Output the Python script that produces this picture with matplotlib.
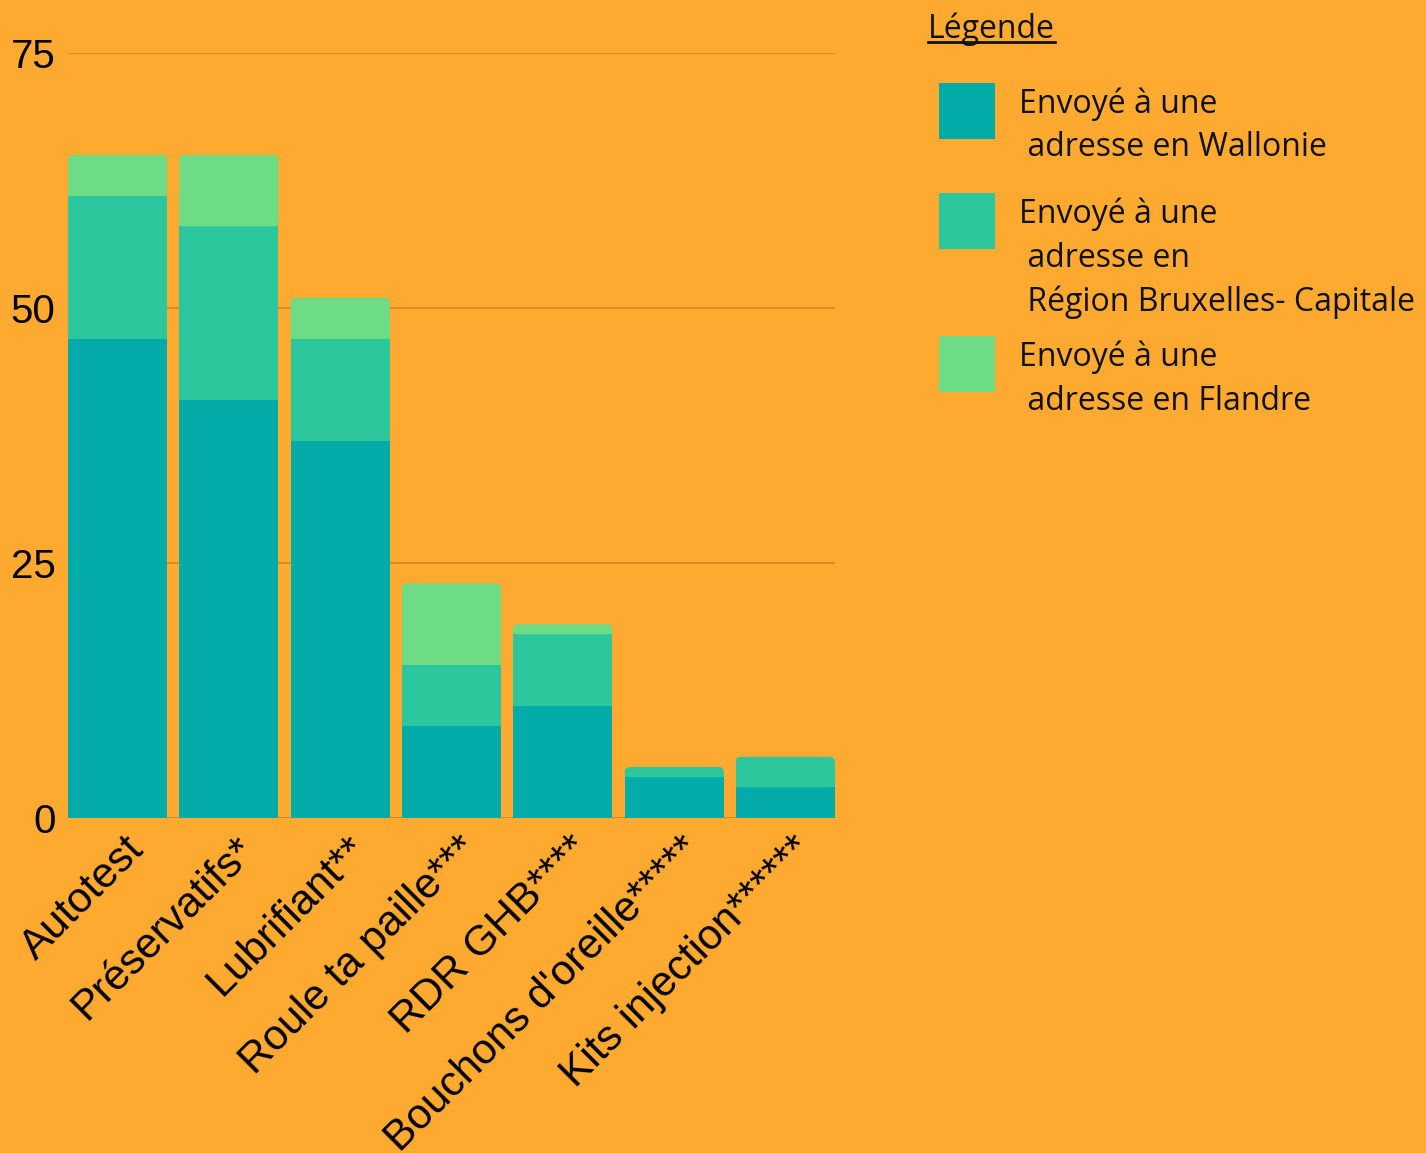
import matplotlib
matplotlib.use('Agg')
import matplotlib.pyplot as plt
from matplotlib.patches import FancyBboxPatch, Rectangle
from matplotlib.lines import Line2D
import matplotlib.transforms as mtransforms

categories = ['Autotest', 'Préservatifs*', 'Lubrifiant**', 'Roule ta paille***',
              'RDR GHB****', "Bouchons d'oreille*****", 'Kits injection******']
wallonie = [47, 41, 37, 9, 11, 4, 3]
bruxelles = [14, 17, 10, 6, 7, 1, 3]
flandre = [4, 7, 4, 8, 1, 0, 0]
yticks = [0, 25, 50, 75]

series = [wallonie, bruxelles, flandre]
colors = ['#03aca9', '#2cc79d', '#6edc84']
legend_lines = [
    ['Envoyé à une', ' adresse en Wallonie'],
    ['Envoyé à une', ' adresse en', ' Région Bruxelles- Capitale'],
    ['Envoyé à une', ' adresse en Flandre'],
]
bg = '#feaa31'
grid_color = '#cf8420'

W, H = 1426, 1153
fig = plt.figure(figsize=(W / 100, H / 100), dpi=100, facecolor=bg)
ax = fig.add_axes([68 / W, 1 - 818 / H, (835 - 68) / W, (818 - 53) / H])
ax.set_facecolor(bg)

width = 0.89
x = list(range(len(categories)))
ax.set_xlim(-width / 2, len(categories) - 1 + width / 2)
ax.set_ylim(0, 75)

for t in yticks:
    ax.axhline(t, color=grid_color, lw=1.1, zorder=1)

# pixel scale for rounded tops
px_x = ax.get_position().width * W / (ax.get_xlim()[1] - ax.get_xlim()[0])
px_y = ax.get_position().height * H / 75
r_px = 5
r_x = r_px / px_x
aspect = px_x / px_y

bottoms = [0] * len(categories)
for s, vals in enumerate(series):
    for i, v in enumerate(vals):
        if v <= 0:
            continue
        is_top = all(series[k][i] == 0 for k in range(s + 1, len(series)))
        left = i - width / 2
        if is_top:
            p = FancyBboxPatch((left, bottoms[i]), width, v,
                               boxstyle=f'round,pad=0,rounding_size={r_x}',
                               mutation_aspect=aspect, fc=colors[s], ec='none', zorder=2)
            ax.add_patch(p)
            ax.add_patch(Rectangle((left, bottoms[i]), width, v / 2,
                                   fc=colors[s], ec='none', zorder=2))
        else:
            ax.add_patch(Rectangle((left, bottoms[i]), width, v,
                                   fc=colors[s], ec='none', zorder=2))
        bottoms[i] += v

for sp in ax.spines.values():
    sp.set_visible(False)
ax.set_yticks(yticks)
ax.set_yticklabels([str(t) for t in yticks], fontsize=29, family='Liberation Sans')
ax.tick_params(axis='y', length=0, pad=9)
ax.set_xticks(x)
ax.set_xticklabels(categories, fontsize=30.5, family='Liberation Sans',
                   rotation=45, ha='right', va='center', rotation_mode='anchor')
ax.tick_params(axis='x', length=0, pad=18)
offset = mtransforms.ScaledTranslation(20 / 100, 0, fig.dpi_scale_trans)
for lab in ax.get_xticklabels():
    lab.set_transform(lab.get_transform() + offset)

# custom legend
lfont = dict(family='Open Sans', fontsize=23, color='#111111')
title = fig.text(928 / W, 1 - 29 / H, 'Légende', va='center', ha='left', **lfont)
fig.canvas.draw()
bb = title.get_window_extent()
fig.add_artist(Line2D([bb.x0 / W, bb.x1 / W], [1 - 42 / H, 1 - 42 / H],
                      color='#111111', lw=2))

box_tops = [83, 193, 336]
for k, top in enumerate(box_tops):
    fig.add_artist(Rectangle((939 / W, 1 - (top + 56) / H), 56 / W, 56 / H,
                             fc=colors[k], ec='none', transform=fig.transFigure))
    for j, line in enumerate(legend_lines[k]):
        fig.text(1019 / W, 1 - (top + 21 + 44 * j) / H, line, va='center', ha='left', **lfont)

fig.savefig('out.png', dpi=100, facecolor=bg)
